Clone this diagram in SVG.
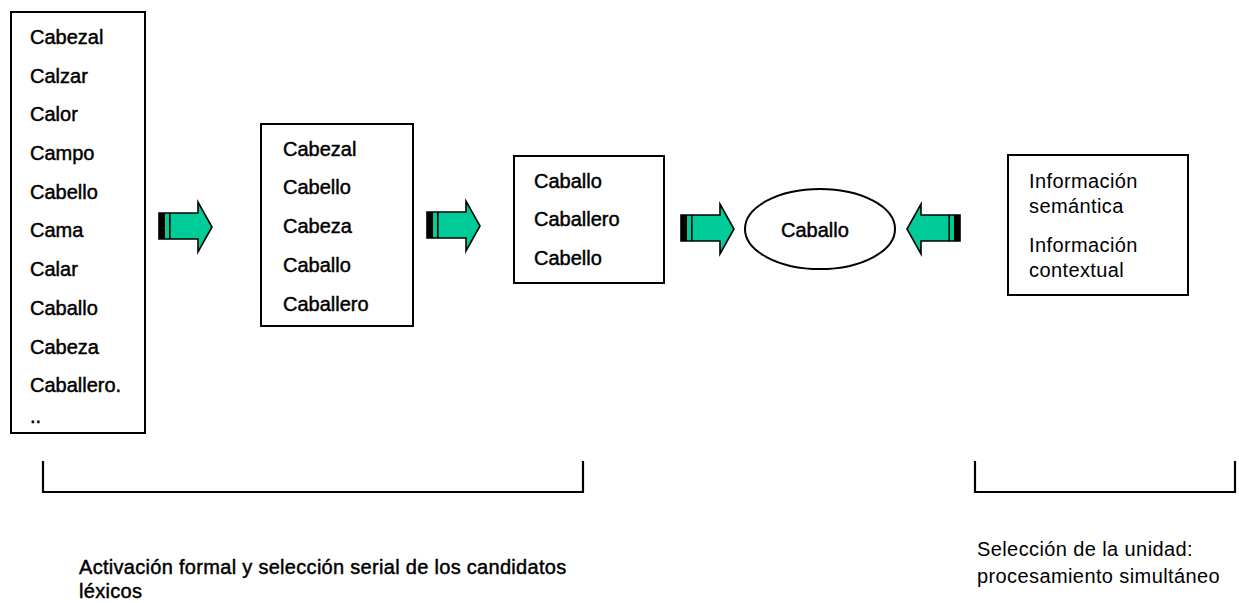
<svg xmlns="http://www.w3.org/2000/svg" width="1239" height="603" viewBox="0 0 1239 603">
<defs>
<style>
.box{fill:#fff;stroke:#000;stroke-width:2}
.t{font-family:"Liberation Sans",Arial,sans-serif;font-size:20px;fill:#000;stroke:#000;stroke-width:0.45}
.r{font-family:"Liberation Sans",Arial,sans-serif;font-size:20px;fill:#000;letter-spacing:0.4px}
.cap{letter-spacing:0.3px}
.br{fill:none;stroke:#000;stroke-width:2.2}
</style>
<g id="arr">
<path d="M0,11 H39 V0 L53,25 L39,50 V37 H0 Z" fill="#00CC99" stroke="#000" stroke-width="1.6" stroke-linejoin="miter"/>
<rect x="0" y="11" width="6" height="26" fill="#000"/>
<rect x="10" y="11" width="1.6" height="26" fill="#000"/>
</g>
</defs>
<rect width="1239" height="603" fill="#fff"/>

<g id="connectors">
<use href="#arr" x="159" y="202"/>
<use href="#arr" x="427" y="201"/>
<use href="#arr" x="681" y="204"/>
<use href="#arr" transform="translate(960,204) scale(-1,1)"/>
</g>

<g id="list-all">
<rect class="box" x="11" y="12" width="134" height="421"/>
<text class="t" x="30" y="44">Cabezal</text>
<text class="t" x="30" y="83">Calzar</text>
<text class="t" x="30" y="121">Calor</text>
<text class="t" x="30" y="160">Campo</text>
<text class="t" x="30" y="199">Cabello</text>
<text class="t" x="30" y="237">Cama</text>
<text class="t" x="30" y="276">Calar</text>
<text class="t" x="30" y="315">Caballo</text>
<text class="t" x="30" y="354">Cabeza</text>
<text class="t" x="30" y="392">Caballero.</text>
<text class="t" x="30" y="423">..</text>
</g>

<g id="list-2">
<rect class="box" x="261" y="124" width="152" height="202"/>
<text class="t" x="283" y="156">Cabezal</text>
<text class="t" x="283" y="194">Cabello</text>
<text class="t" x="283" y="233">Cabeza</text>
<text class="t" x="283" y="272">Caballo</text>
<text class="t" x="283" y="311">Caballero</text>
</g>

<g id="list-3">
<rect class="box" x="514" y="156" width="150" height="127"/>
<text class="t" x="534" y="188">Caballo</text>
<text class="t" x="534" y="226">Caballero</text>
<text class="t" x="534" y="265">Cabello</text>
</g>

<g id="result">
<ellipse cx="820" cy="229" rx="75" ry="40" fill="#fff" stroke="#000" stroke-width="2"/>
<text class="t" x="781" y="237">Caballo</text>
</g>

<g id="info">
<rect class="box" x="1008" y="155" width="180" height="140"/>
<text class="r" x="1029" y="188">Información</text>
<text class="r" x="1029" y="213">semántica</text>
<text class="r" x="1029" y="252">Información</text>
<text class="r" x="1029" y="277">contextual</text>
</g>

<g id="bracket-1">
<path class="br" d="M43,461 V492 H583 V461"/>
<text class="t cap" x="79" y="574">Activación formal y selección serial de los candidatos</text>
<text class="t cap" x="79" y="598">léxicos</text>
</g>

<g id="bracket-2">
<path class="br" d="M975,461 V492 H1235 V461"/>
<text class="r" x="977" y="556">Selección de la unidad:</text>
<text class="r" x="977" y="583">procesamiento simultáneo</text>
</g>
</svg>
